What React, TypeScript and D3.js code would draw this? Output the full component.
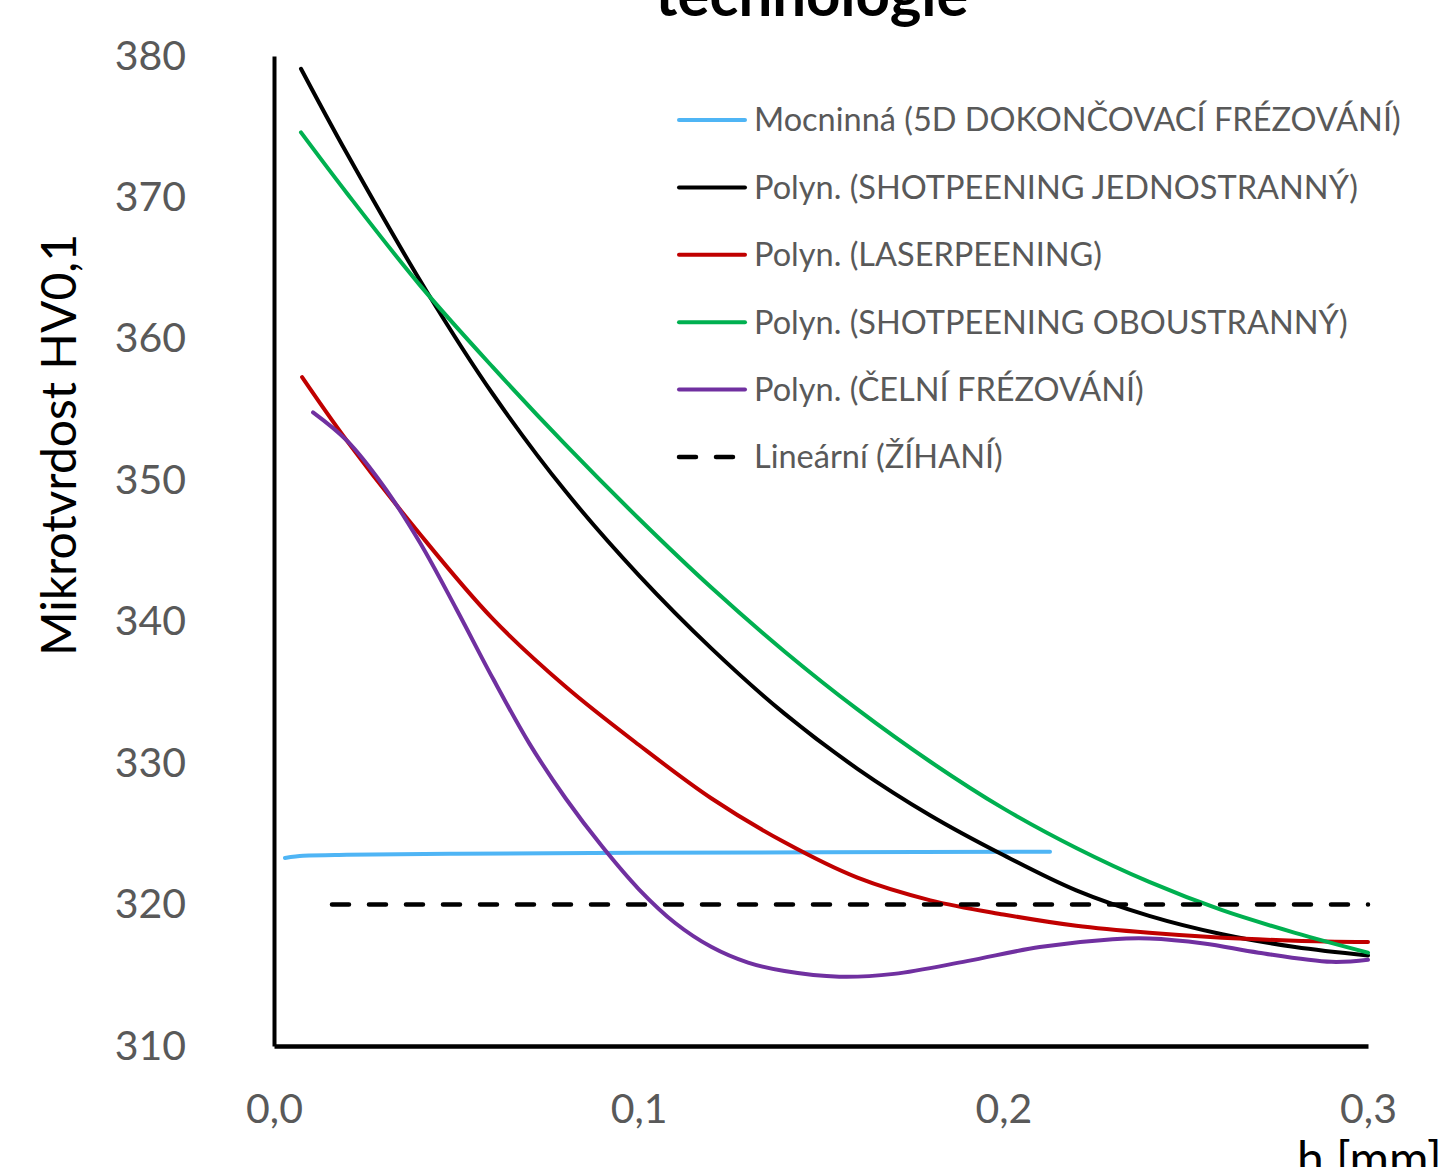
import { useEffect, useRef } from 'react';
import * as d3 from 'd3';

// [h (mm), HV0,1]
const MOCNINNA_5D = [
  [0.003, 323.3], [0.008, 323.45], [0.02, 323.52], [0.05, 323.6],
  [0.1, 323.66], [0.15, 323.7], [0.2128, 323.74],
];
const SHOT_JEDNOSTRANNY = [
  [0.0074, 379.1], [0.02, 373.1], [0.042, 363.3], [0.06, 356.1], [0.08, 349.2],
  [0.1, 343.3], [0.12, 338.1], [0.14, 333.5], [0.16, 329.6], [0.18, 326.3],
  [0.2, 323.5], [0.22, 321.0], [0.24, 319.2], [0.26, 317.9], [0.28, 317.0], [0.3, 316.4],
];
const LASERPEENING = [
  [0.0077, 357.3], [0.02, 352.8], [0.04, 346.2], [0.06, 340.2], [0.08, 335.4],
  [0.1, 331.3], [0.12, 327.5], [0.14, 324.4], [0.16, 321.9], [0.18, 320.3],
  [0.2, 319.3], [0.22, 318.5], [0.24, 318.0], [0.26, 317.65], [0.28, 317.45], [0.3, 317.35],
];
const SHOT_OBOUSTRANNY = [
  [0.0074, 374.6], [0.02, 370.3], [0.04, 363.8], [0.06, 358.0], [0.08, 352.5],
  [0.1, 347.3], [0.12, 342.4], [0.14, 337.9], [0.16, 333.8], [0.18, 330.1],
  [0.2, 326.8], [0.22, 324.0], [0.24, 321.6], [0.26, 319.6], [0.28, 318.0], [0.3, 316.6],
];
const CELNI_FREZOVANI = [
  [0.0107, 354.8], [0.02, 352.8], [0.03, 349.6], [0.04, 345.6], [0.05, 340.9],
  [0.06, 336.0], [0.07, 331.4], [0.08, 327.5], [0.09, 324.1], [0.1, 321.1],
  [0.11, 318.7], [0.12, 317.0], [0.13, 315.9], [0.14, 315.3], [0.155, 314.9],
  [0.17, 315.1], [0.19, 316.0], [0.21, 317.0], [0.23, 317.55], [0.24, 317.6],
  [0.255, 317.25], [0.27, 316.6], [0.29, 315.95], [0.3, 316.1],
];
const ZIHANI = [[0.0159, 320], [0.3, 320]];

const X_TICKS = [0, 0.1, 0.2, 0.3];
const Y_TICKS = [310, 320, 330, 340, 350, 360, 370, 380];

const SERIES = [
  { name: 'Mocninná (5D DOKONČOVACÍ FRÉZOVÁNÍ)', data: MOCNINNA_5D, color: '#4fb5f5', curve: d3.curveMonotoneX, dashed: false },
  { name: 'Polyn. (SHOTPEENING JEDNOSTRANNÝ)', data: SHOT_JEDNOSTRANNY, color: '#000000', curve: d3.curveCatmullRom, dashed: false },
  { name: 'Polyn. (LASERPEENING)', data: LASERPEENING, color: '#c00000', curve: d3.curveCatmullRom, dashed: false },
  { name: 'Polyn. (SHOTPEENING OBOUSTRANNÝ)', data: SHOT_OBOUSTRANNY, color: '#00b050', curve: d3.curveCatmullRom, dashed: false },
  { name: 'Polyn. (ČELNÍ FRÉZOVÁNÍ)', data: CELNI_FREZOVANI, color: '#7030a0', curve: d3.curveCatmullRom, dashed: false },
  { name: 'Lineární (ŽÍHANÍ)', data: ZIHANI, color: '#000000', curve: d3.curveLinear, dashed: true },
];

const W = 1445, H = 1167;
const FONT = 'Lato, "Open Sans", sans-serif';
const GREY = '#595959';

export default function App() {
  const svgRef = useRef<SVGSVGElement>(null);

  useEffect(() => {
    const svg = d3.select(svgRef.current);
    svg.selectAll('*').remove();

    const x = d3.scaleLinear().domain([0, 0.3]).range([274, 1368]);
    const y = d3.scaleLinear().domain([310, 380]).range([1046, 56]);

    // title (its first line falls outside the frame)
    svg.append('text').attr('x', 812).attr('y', 16)
      .attr('text-anchor', 'middle').style('font-family', FONT)
      .style('font-weight', 700).style('font-size', '60px').style('fill', '#000')
      .text('technologie');

    // axes
    const fmt = (d: number) => d3.format('.1f')(d).replace('.', ',');
    svg.append('g').attr('transform', 'translate(0,1046)')
      .call(d3.axisBottom(x).tickValues(X_TICKS).tickSize(0).tickPadding(48).tickFormat(fmt as any))
      .call(ax => ax.select('.domain').attr('stroke', '#000').attr('stroke-width', 4.5))
      .call(ax => ax.selectAll('text').style('fill', GREY).style('font-size', '41px').style('font-family', FONT));

    svg.append('g').attr('transform', 'translate(274,0)')
      .call(d3.axisLeft(y).tickValues(Y_TICKS).tickSize(0).tickPadding(88))
      .call(ax => ax.select('.domain').attr('stroke', '#000').attr('stroke-width', 4))
      .call(ax => ax.selectAll('text').style('fill', GREY).style('font-size', '41px').style('font-family', FONT));

    svg.append('text')
      .attr('transform', 'translate(76,445) rotate(-90)')
      .attr('text-anchor', 'middle').style('font-family', FONT)
      .style('font-size', '48px').style('fill', '#000')
      .text('Mikrotvrdost HV0,1');

    svg.append('text').attr('x', 1297).attr('y', 1176)
      .style('font-family', FONT).style('font-size', '48px').style('fill', '#000')
      .text('h [mm]');

    // trendlines
    for (const s of SERIES) {
      const line = d3.line<number[]>().x(d => x(d[0])).y(d => y(d[1])).curve(s.curve);
      svg.append('path').datum(s.data).attr('d', line)
        .attr('fill', 'none').attr('stroke', s.color)
        .attr('stroke-width', s.dashed ? 4.5 : 4)
        .attr('stroke-linecap', 'round')
        .attr('stroke-dasharray', s.dashed ? '17 20' : null);
    }

    // legend
    const lg = svg.append('g');
    SERIES.forEach((s, i) => {
      const ly = 120 + i * 67.4;
      lg.append('line').attr('x1', 679).attr('x2', 745).attr('y1', ly).attr('y2', ly)
        .attr('stroke', s.color).attr('stroke-width', s.dashed ? 4.5 : 4)
        .attr('stroke-linecap', 'round')
        .attr('stroke-dasharray', s.dashed ? '17 20' : null);
      lg.append('text').attr('x', 754).attr('y', ly).attr('dy', '0.35em')
        .style('font-family', FONT).style('font-size', '32.5px').style('fill', GREY)
        .text(s.name);
    });
  }, []);

  return (
    <svg ref={svgRef} width={W} height={H}
      style={{ position: 'absolute', left: 0, top: 0, background: '#fff', display: 'block' }} />
  );
}
